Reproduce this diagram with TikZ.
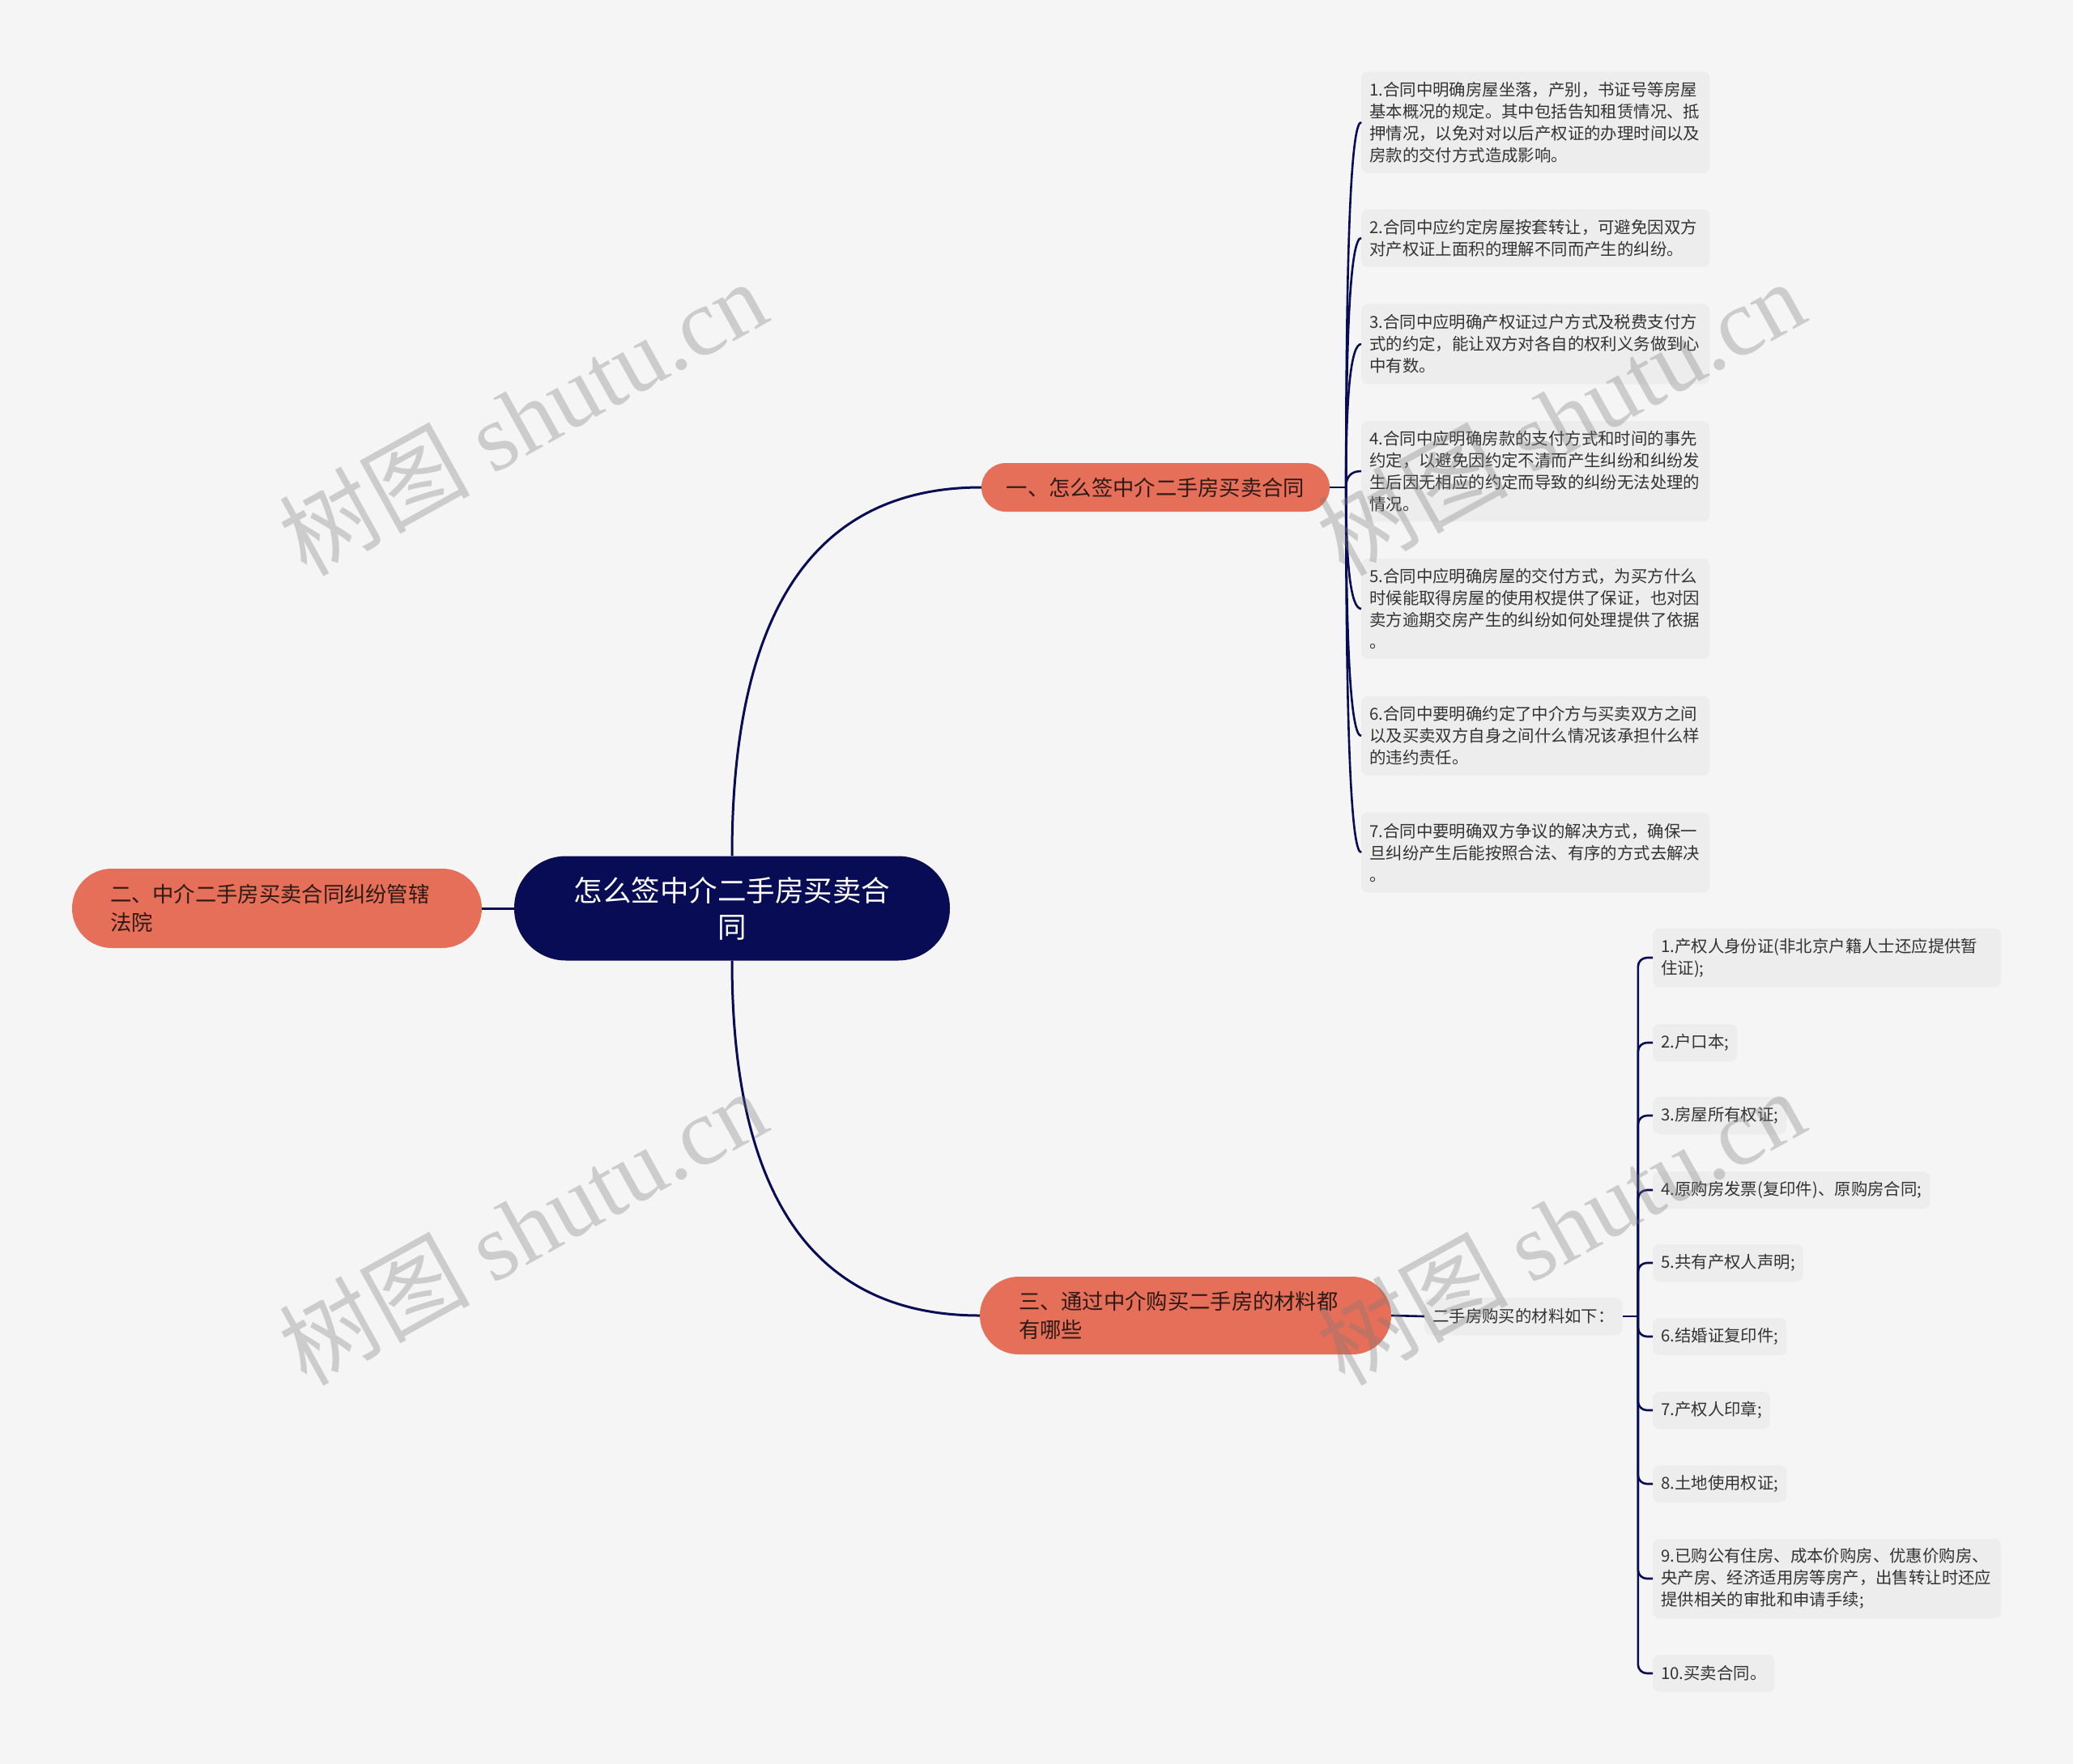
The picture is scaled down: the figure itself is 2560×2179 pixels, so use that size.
\documentclass[tikz,border=0pt]{standalone}
\usepackage{fontspec}
\setmainfont{Noto Sans CJK SC}
\newfontfamily\cjkwm{Noto Sans CJK SC}
\newfontfamily\wmlatin{Liberation Serif}
\usetikzlibrary{calc}
\definecolor{bgc}{HTML}{F5F5F5}
\definecolor{navy}{HTML}{070C55}
\definecolor{salmon}{HTML}{E56F59}
\definecolor{btext}{HTML}{2E1A14}
\definecolor{leafc}{HTML}{EDEDED}
\definecolor{ltext}{HTML}{333333}
\definecolor{wmgray}{HTML}{7A7A7A}
\begin{document}
\begin{tikzpicture}[x=1pt,y=-1pt,
  rootnode/.style={fill=navy, text=white, rounded corners=64pt, minimum width=538pt,
    minimum height=129pt, inner sep=0pt, align=center, text width=409pt,
    font=\fontsize{35.5pt}{45pt}\selectfont},
  branchnode/.style={fill=salmon, text=btext, inner ysep=0pt,
    font=\fontsize{26.3pt}{35pt}\selectfont},
  leaf/.style={fill=leafc, text=ltext, rounded corners=8pt, inner xsep=10pt, inner ysep=0pt,
    font=\fontsize{20.4pt}{27pt}\selectfont, anchor=west, align=left, minimum height=46pt},
  conn/.style={draw=navy, line width=3pt},
  subconn/.style={draw=navy, line width=2.6pt},
  wm/.style={text=wmgray, opacity=0.33, inner sep=0pt, font=\fontsize{118pt}{118pt}\selectfont, rotate=29}
]
\useasboundingbox (0,0) rectangle (2560,2179);
\fill[bgc] (0,0) rectangle (2560,2179);

% main nodes
\node[rootnode] (root) at (904,1122) {怎么签中介二手房买卖合\\同};
\node[branchnode, rounded corners=49pt, minimum height=98pt, text width=412pt, inner xsep=47pt, align=left] (b2) at (342,1122) {二、中介二手房买卖合同纠纷管辖\\法院};
\node[branchnode, rounded corners=30pt, minimum width=430pt, minimum height=60pt, inner xsep=0pt, align=center] (b1) at (1427,602) {一、怎么签中介二手房买卖合同};
\node[branchnode, rounded corners=48pt, minimum height=96pt, text width=412pt, inner xsep=48pt, align=left] (b3) at (1464,1625) {三、通过中介购买二手房的材料都\\有哪些};
\node[leaf] (lab) at (1759,1626) {二手房购买的材料如下：};

% branch one leaves
\node[leaf, text width=410pt, minimum height=125pt] (a1) at (1681,151) {1.合同中明确房屋坐落，产别，书证号等房屋\\基本概况的规定。其中包括告知租赁情况、抵\\押情况，以免对对以后产权证的办理时间以及\\房款的交付方式造成影响。};
\node[leaf, text width=410pt, minimum height=71pt] (a2) at (1681,294) {2.合同中应约定房屋按套转让，可避免因双方\\对产权证上面积的理解不同而产生的纠纷。};
\node[leaf, text width=410pt, minimum height=99pt] (a3) at (1681,425) {3.合同中应明确产权证过户方式及税费支付方\\式的约定，能让双方对各自的权利义务做到心\\中有数。};
\node[leaf, text width=410pt, minimum height=124pt] (a4) at (1681,582) {4.合同中应明确房款的支付方式和时间的事先\\约定，以避免因约定不清而产生纠纷和纠纷发\\生后因无相应的约定而导致的纠纷无法处理的\\情况。};
\node[leaf, text width=410pt, minimum height=124pt] (a5) at (1681,752) {5.合同中应明确房屋的交付方式，为买方什么\\时候能取得房屋的使用权提供了保证，也对因\\卖方逾期交房产生的纠纷如何处理提供了依据\\。};
\node[leaf, text width=410pt, minimum height=98pt] (a6) at (1681,909) {6.合同中要明确约定了中介方与买卖双方之间\\以及买卖双方自身之间什么情况该承担什么样\\的违约责任。};
\node[leaf, text width=410pt, minimum height=99pt] (a7) at (1681,1053) {7.合同中要明确双方争议的解决方式，确保一\\旦纠纷产生后能按照合法、有序的方式去解决\\。};

% branch three leaves
\node[leaf, text width=410pt, minimum height=72pt] (c1) at (2041,1183) {1.产权人身份证(非北京户籍人士还应提供暂\\住证);};
\node[leaf] (c2) at (2041,1288) {2.户口本;};
\node[leaf] (c3) at (2041,1378) {3.房屋所有权证;};
\node[leaf] (c4) at (2041,1470) {4.原购房发票(复印件)、原购房合同;};
\node[leaf] (c5) at (2041,1560) {5.共有产权人声明;};
\node[leaf] (c6) at (2041,1651) {6.结婚证复印件;};
\node[leaf] (c7) at (2041,1742) {7.产权人印章;};
\node[leaf] (c8) at (2041,1833) {8.土地使用权证;};
\node[leaf, text width=410pt, minimum height=98pt] (c9) at (2041,1950) {9.已购公有住房、成本价购房、优惠价购房、\\央产房、经济适用房等房产，出售转让时还应\\提供相关的审批和申请手续;};
\node[leaf] (c10) at (2041,2067) {10.买卖合同。};

% connectors: root
\draw[conn] (root.west) -- (b2.east);
\draw[conn] (root.north) .. controls ($(root.north)!2/3!(root.north|-b1.west)$) and ($(b1.west)!2/3!(root.north|-b1.west)$) .. (b1.west);
\draw[conn] (root.south) .. controls ($(root.south)!2/3!(root.south|-b3.west)$) and ($(b3.west)!2/3!(root.south|-b3.west)$) .. (b3.west);

% branch one
\coordinate (j1) at ($(b1.east)+(20,0)$);
\draw[subconn] (b1.east) -- (j1);
\foreach \c in {a1,a2,a3,a4,a5,a6,a7}{
  \draw[subconn] (j1) .. controls ($(j1)!2/3!(j1|-\c.west)$) and ($(\c.west)!2/3!(j1|-\c.west)$) .. (\c.west);
}

% branch three
\draw[subconn] (b3.east) -- (lab.west);
\coordinate (j3) at ($(lab.east)+(19,0)$);
\draw[subconn] (lab.east) -- (j3);
\foreach \c in {c1,c2,c3,c4,c5,c6,c7,c8,c9,c10}{
  \draw[subconn, rounded corners=11pt] (j3) |- (\c.west);
}

% watermarks
\foreach \p in {(645,515),(1927,515),(645,1515),(1927,1515)}{
  \node[wm] at \p {{\cjkwm 树图} {\wmlatin shutu.cn}};
}
\end{tikzpicture}
\end{document}
